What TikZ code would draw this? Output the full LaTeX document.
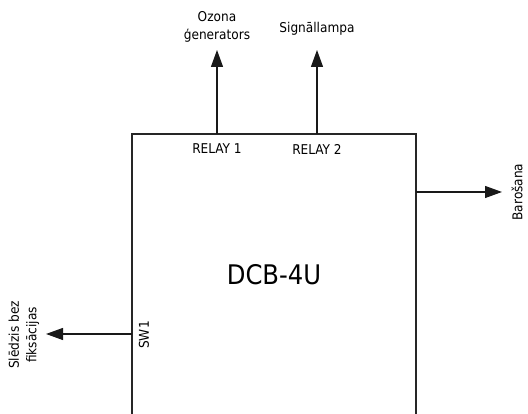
\documentclass[tikz,border=0pt]{standalone}
\usepackage{fontspec}
\setmainfont{DejaVu Sans Condensed}
\usetikzlibrary{arrows.meta}

\begin{document}
\begin{tikzpicture}[
    x=1pt, y=1pt,
    >={Triangle[length=17pt,width=12pt]},
    every node/.style={font=\fontsize{13.5}{17.5}\selectfont},
    unit/.style={
        draw=black!85, line width=1.4pt,
        minimum width=284pt, minimum height=282pt,
        inner sep=0pt,
        font=\fontsize{27}{31}\selectfont
    },
    wire/.style={->, line width=1.2pt, draw=black!90},
    portlbl/.style={inner sep=1pt},
    outlbl/.style={align=center, inner sep=0pt}
]
\useasboundingbox (0,0) rectangle (528,414);

% Bloks
\node[unit] (dcb) at (274,139) {DCB-4U};

% Releji
\coordinate (relayA) at (217,280);
\coordinate (relayB) at (317,280);
\coordinate (ozona) at (217,364);
\coordinate (lampa) at (317,364);
\node[portlbl] (relayAlbl) at (217,265) {RELAY 1};
\node[portlbl] (relayBlbl) at (317,265) {RELAY 2};
\draw[wire] (relayA) -- (ozona);
\draw[wire] (relayB) -- (lampa);
\node[outlbl] (ozonalbl) at (217,387) {Ozona\\ģenerators};
\node[outlbl] (lampalbl) at (317,385) {Signāllampa};

% Barošana
\coordinate (pwr) at (416,222);
\coordinate (pwrend) at (502,222);
\draw[wire] (pwr) -- (pwrend);
\node[outlbl, rotate=90] (pwrlbl) at (517,222) {Barošana};

% Slēdzis
\coordinate (sw) at (132,80);
\coordinate (swend) at (46,80);
\draw[wire] (sw) -- (swend);
\node[portlbl, rotate=90] (swlbl) at (144,79) {SW1};
\node[outlbl, rotate=90] (swtxt) at (24,79) {Slēdzis bez\\fiksācijas};

\end{tikzpicture}
\end{document}
